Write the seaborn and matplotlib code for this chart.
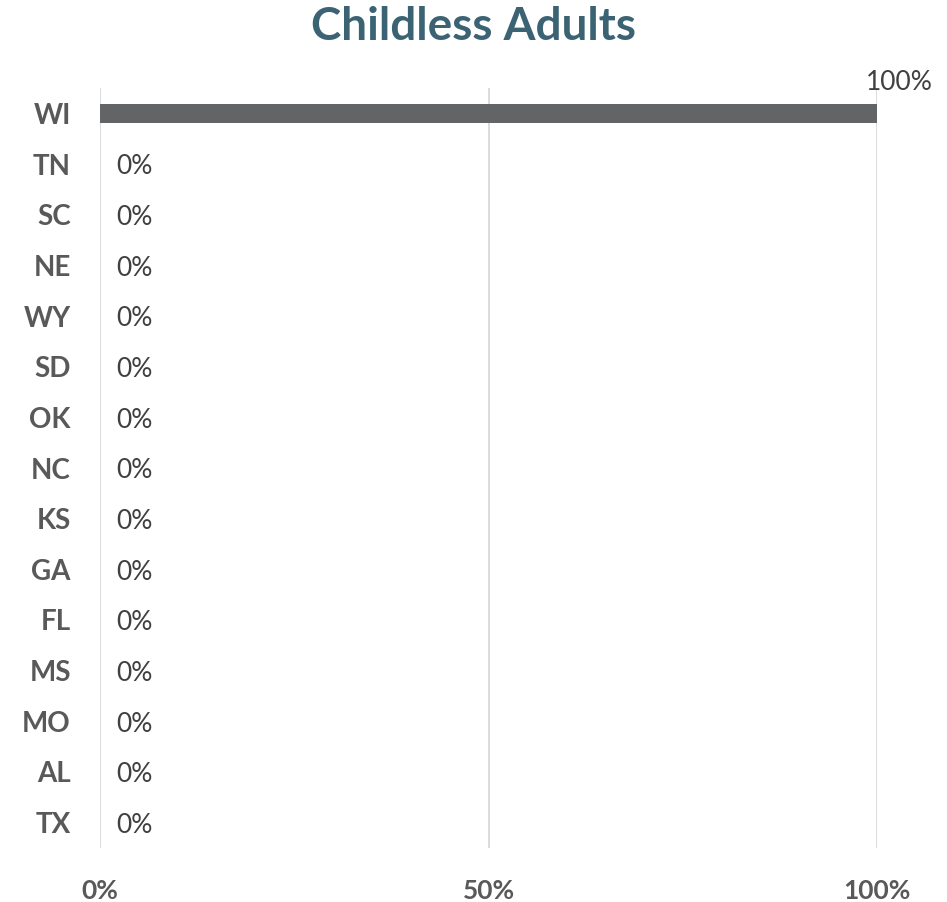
import matplotlib
matplotlib.use("Agg")
import matplotlib.pyplot as plt
import seaborn as sns
import pandas as pd

states = ["WI", "TN", "SC", "NE", "WY", "SD", "OK", "NC", "KS", "GA", "FL", "MS", "MO", "AL", "TX"]
share_pct = [100, 0, 0, 0, 0, 0, 0, 0, 0, 0, 0, 0, 0, 0, 0]
x_ticks = [0, 50, 100]
x_tick_labels = ["0%", "50%", "100%"]

df = pd.DataFrame({"state": states, "share": share_pct})

sns.set_style("white")
plt.rcParams["font.family"] = ["Lato", "DejaVu Sans"]

fig = plt.figure(figsize=(9.47, 9.02), dpi=100)
ax = fig.add_axes([0.1056, 0.0599, 0.8205, 0.8425])

sns.barplot(data=df, x="share", y="state", orient="h", color="#636466",
            saturation=1, width=0.37, linewidth=0, ax=ax)

ax.set_xlim(0, 100)
ax.set_ylim(len(states) - 0.5, -0.5)
ax.set_xticks(x_ticks)
ax.set_xticklabels(x_tick_labels, fontsize=19, fontweight="bold", color="#595959")
ax.tick_params(axis="x", length=0, pad=22)
ax.tick_params(axis="y", length=0, pad=21)
for lab in ax.get_yticklabels():
    lab.set_fontsize(20)
    lab.set_fontweight("bold")
    lab.set_color("#595959")
ax.set_xlabel("")
ax.set_ylabel("")
for s in ax.spines.values():
    s.set_visible(False)
for xv in x_ticks:
    ax.axvline(xv, color="#D9D9D9", lw=1.3, zorder=0)

for i, v in enumerate(share_pct):
    if v >= 100:
        ax.annotate(f"{v}%", (v, i), xytext=(16, 22), textcoords="offset points",
                    ha="center", va="center", fontsize=19, color="#404040")
    else:
        ax.annotate(f"{v}%", (v, i), xytext=(12, -2), textcoords="offset points",
                    ha="left", va="center", fontsize=19, color="#404040")

fig.suptitle("Childless Adults", x=0.5, y=0.993, fontsize=33, fontweight="bold",
             color="#3B6373", va="top")

fig.savefig("out.png", dpi=100)
